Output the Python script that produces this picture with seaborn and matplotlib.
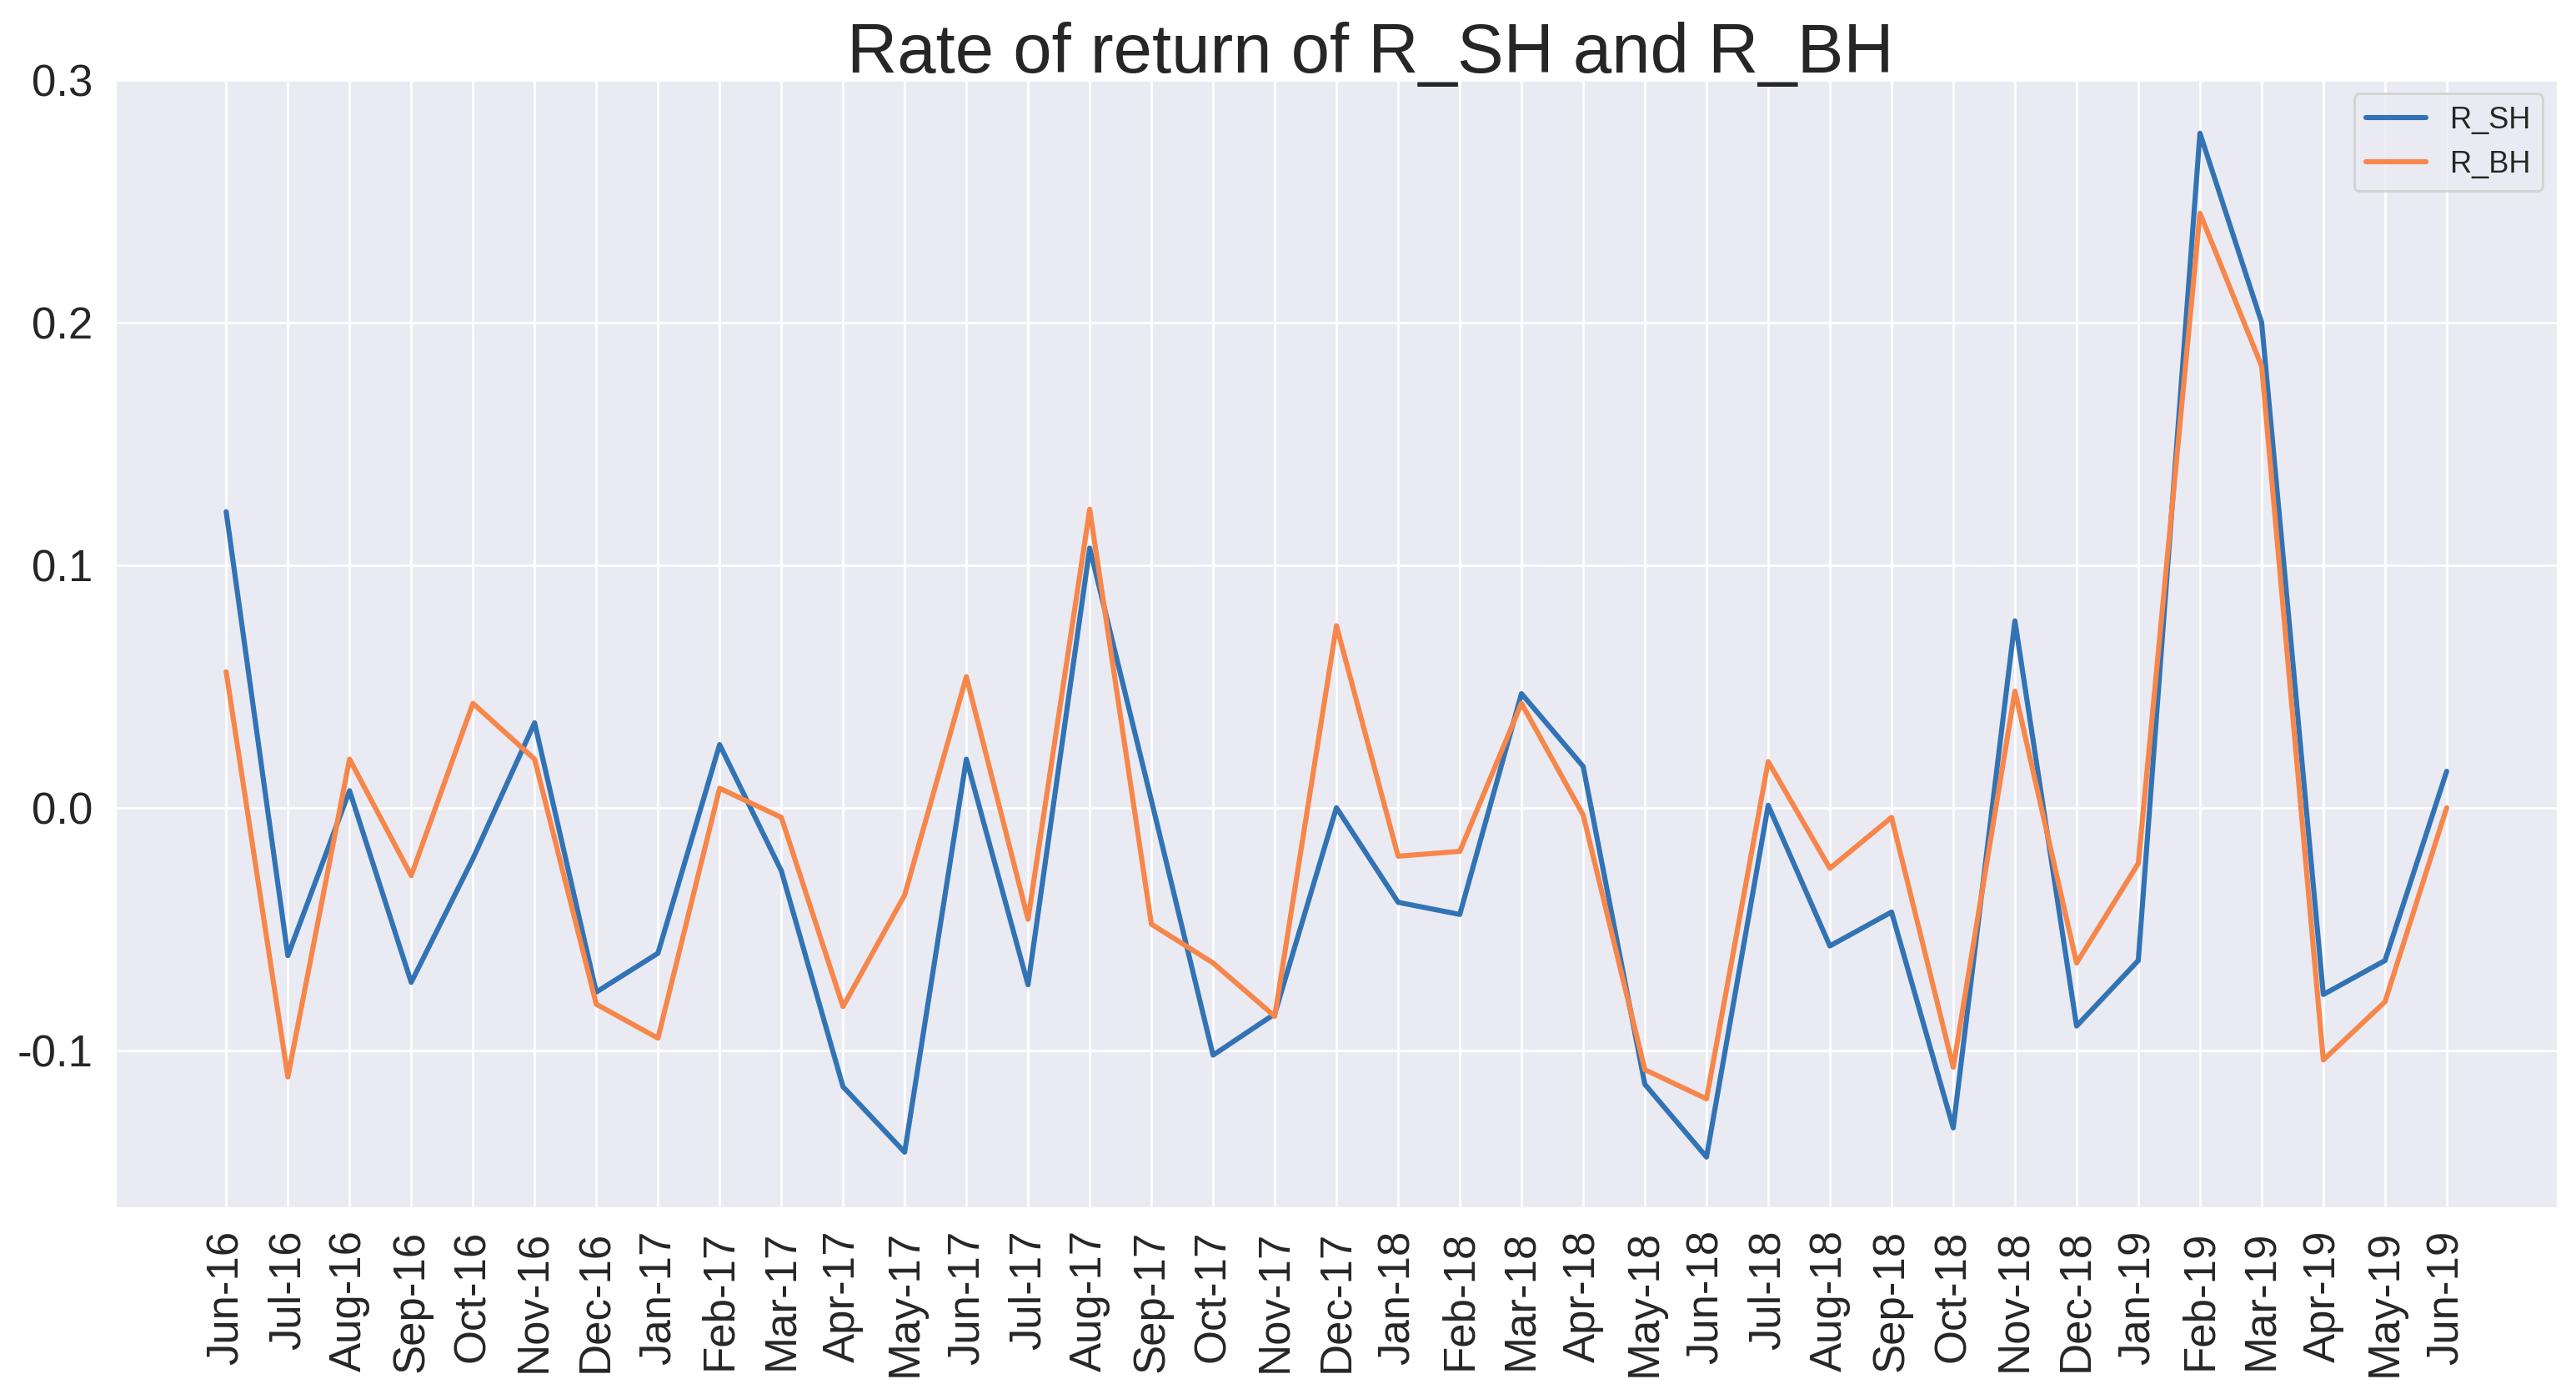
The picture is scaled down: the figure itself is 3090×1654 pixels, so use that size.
import pandas as pd
import matplotlib
matplotlib.use('Agg')
import matplotlib.pyplot as plt
import matplotlib.ticker as mticker
import seaborn as sns

months = ['Jun-16', 'Jul-16', 'Aug-16', 'Sep-16', 'Oct-16', 'Nov-16', 'Dec-16',
          'Jan-17', 'Feb-17', 'Mar-17', 'Apr-17', 'May-17', 'Jun-17', 'Jul-17',
          'Aug-17', 'Sep-17', 'Oct-17', 'Nov-17', 'Dec-17', 'Jan-18', 'Feb-18',
          'Mar-18', 'Apr-18', 'May-18', 'Jun-18', 'Jul-18', 'Aug-18', 'Sep-18',
          'Oct-18', 'Nov-18', 'Dec-18', 'Jan-19', 'Feb-19', 'Mar-19', 'Apr-19',
          'May-19', 'Jun-19']

r_sh = [0.122, -0.061, 0.007, -0.072, -0.021, 0.035, -0.076,
        -0.060, 0.026, -0.026, -0.115, -0.142, 0.020, -0.073,
        0.107, 0.003, -0.102, -0.085, 0.000, -0.039, -0.044,
        0.047, 0.017, -0.114, -0.144, 0.001, -0.057, -0.043,
        -0.132, 0.077, -0.090, -0.063, 0.278, 0.200, -0.077,
        -0.063, 0.015]

r_bh = [0.056, -0.111, 0.020, -0.028, 0.043, 0.020, -0.081,
        -0.095, 0.008, -0.004, -0.082, -0.036, 0.054, -0.046,
        0.123, -0.048, -0.064, -0.086, 0.075, -0.020, -0.018,
        0.043, -0.003, -0.108, -0.120, 0.019, -0.025, -0.004,
        -0.107, 0.048, -0.064, -0.023, 0.245, 0.182, -0.104,
        -0.080, 0.000]

sns.set_theme(style='darkgrid')
plt.rcParams['font.family'] = ['Liberation Sans', 'DejaVu Sans']
plt.rcParams['axes.unicode_minus'] = False

df = pd.DataFrame({'month': months, 'R_SH': r_sh, 'R_BH': r_bh})

fig, ax = plt.subplots(figsize=(15.45, 8.27), dpi=200)
fig.subplots_adjust(left=0.0447, right=0.9929, top=0.943, bottom=0.124)

sns.lineplot(data=df, x='month', y='R_SH', label='R_SH', color='#3173b4',
             linewidth=2.2, sort=False, ax=ax)
sns.lineplot(data=df, x='month', y='R_BH', label='R_BH', color='#f6864a',
             linewidth=2.2, sort=False, ax=ax)

ax.set_title('Rate of return of R_SH and R_BH', fontsize=30, pad=2.5, x=0.514)
ax.set_xlabel('')
ax.set_ylabel('')
ax.set_ylim(-0.165, 0.3005)
ax.yaxis.set_major_locator(mticker.MultipleLocator(0.1))
ax.yaxis.set_major_formatter(mticker.FormatStrFormatter('%.1f'))
ax.tick_params(axis='both', labelsize=19)
plt.xticks(rotation=90)
ax.legend(loc='upper right', fontsize=13)

plt.savefig('out.png', dpi=200)
